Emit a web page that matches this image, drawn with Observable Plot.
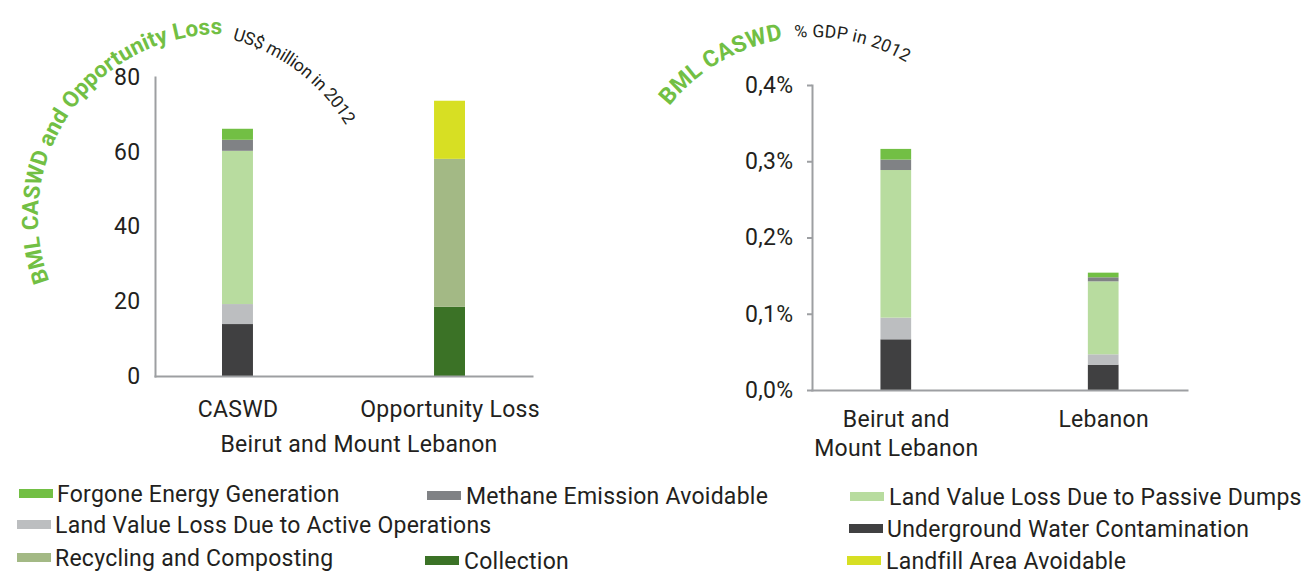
<!DOCTYPE html>
<html><head><meta charset="utf-8">
<script src="https://cdn.jsdelivr.net/npm/d3@7"></script>
<script src="https://cdn.jsdelivr.net/npm/@observablehq/plot@0.6"></script>
<style>
html,body{margin:0;padding:0;background:#fff;}
#root{position:relative;width:1307px;height:574px;font-family:Roboto,sans-serif;color:#231f20;overflow:hidden;}
#root > svg{position:absolute;top:0;}
.lg-sw{position:absolute;height:9px;width:34px;}
.lg-tx{position:absolute;font-size:23px;line-height:20px;white-space:nowrap;letter-spacing:0.25px;}
</style></head><body><div id="root"></div>
<script>
// ---- data ----
const seriesNames = [
  "Underground Water Contamination",
  "Land Value Loss Due to Active Operations",
  "Land Value Loss Due to Passive Dumps",
  "Methane Emission Avoidable",
  "Forgone Energy Generation",
  "Collection",
  "Recycling and Composting",
  "Landfill Area Avoidable"
];
const seriesColors = ["#404041","#bcbec0","#b8dc9f","#808285","#72bf44","#3b7226","#a3b985","#d7df23"];
const costCategories = ["CASWD", "Opportunity Loss"];
const caswdSeries = [0, 1, 2, 3, 4];
const caswdMillion = [13.9, 5.35, 41.0, 2.95, 2.95];
const opportunitySeries = [5, 6, 7];
const opportunityMillion = [18.5, 39.6, 15.55];
const costTicks = [0, 20, 40, 60, 80];
const gdpCategories = ["Beirut and Mount Lebanon", "Lebanon"];
const bmlGdpShare = [0.0665, 0.0284, 0.1936, 0.0137, 0.0140];
const lebanonGdpShare = [0.0332, 0.0136, 0.0957, 0.0053, 0.0061];
const gdpTicks = [0, 0.1, 0.2, 0.3, 0.4];
const leftTitle = ["BML CASWD and Opportunity Loss", "US$ million in 2012"];
const rightTitle = ["BML CASWD", "% GDP in 2012"];
const leftAxisLabel = "Beirut and Mount Lebanon";

// ---- tables ----
const costRows = [
  ...caswdSeries.map((s, i) => ({category: costCategories[0], series: seriesNames[s], value: caswdMillion[i]})),
  ...opportunitySeries.map((s, i) => ({category: costCategories[1], series: seriesNames[s], value: opportunityMillion[i]}))
];
const gdpRows = [
  ...caswdSeries.map((s, i) => ({category: gdpCategories[0], series: seriesNames[s], value: bmlGdpShare[i]})),
  ...caswdSeries.map((s, i) => ({category: gdpCategories[1], series: seriesNames[s], value: lebanonGdpShare[i]}))
];

const AXIS = "#9d9fa2", INK = "#231f20", GREEN = "#72bf44";
const style = {fontFamily: "Roboto, sans-serif", fontSize: "22px", color: INK, background: "transparent", overflow: "visible", letterSpacing: "0.3px"};
const color = {domain: seriesNames, range: seriesColors};
const root = document.getElementById("root");

const left = Plot.plot({
  width: 640, height: 465,
  marginLeft: 155, marginRight: 108, marginTop: 77, marginBottom: 89,
  style,
  x: {domain: costCategories, paddingInner: 0.854, paddingOuter: 0.316, round: false, label: null},
  y: {domain: [0, 80], label: null},
  color,
  marks: [
    Plot.barY(costRows, {x: "category", y: "value", fill: "series", z: "series", order: null}),
    Plot.frame({anchor: "left", stroke: AXIS, strokeWidth: 2}),
    Plot.frame({anchor: "bottom", stroke: AXIS, strokeWidth: 2}),
    Plot.axisY({ticks: costTicks, tickSize: 0, tickPadding: 15, fontSize: 23, fill: INK, label: null}),
    Plot.axisX({tickSize: 0, tickPadding: 24, fontSize: 23, fill: INK, label: null}),
    Plot.text([leftAxisLabel], {text: d => d, frameAnchor: "bottom", lineAnchor: "top", dy: 59, dx: 15, fontSize: 23, fill: INK})
  ]
});
left.style.left = "0px";
root.appendChild(left);

const right = Plot.plot({
  width: 657, height: 465,
  marginLeft: 162, marginRight: 120, marginTop: 85, marginBottom: 75,
  style,
  x: {domain: gdpCategories, paddingInner: 0.852, paddingOuter: 0.33, round: false, label: null},
  y: {domain: [0, 0.4], label: null},
  color,
  marks: [
    Plot.barY(gdpRows, {x: "category", y: "value", fill: "series", z: "series", order: null}),
    Plot.frame({anchor: "left", stroke: AXIS, strokeWidth: 2}),
    Plot.frame({anchor: "bottom", stroke: AXIS, strokeWidth: 2}),
    Plot.axisY({ticks: gdpTicks, tickSize: 5, tickPadding: 14, fontSize: 23, stroke: AXIS, strokeWidth: 2, fill: INK, label: null,
      tickFormat: d => d.toFixed(1).replace(".", ",") + "%"}),
    Plot.axisX({tickSize: 0, tickPadding: 16, fontSize: 23, fill: INK, label: null, lineHeight: 1.26,
      tickFormat: d => d.replace("and ", "and\n")})
  ]
});
right.style.left = "650px";
root.appendChild(right);

// ---- legend (HTML) ----
const legendSlots = [ // [swatchX, textX, baseline] for each series, same order as seriesNames
  [849, 887, 538], [17, 55, 534], [850, 889, 506], [427, 466, 505],
  [19, 57, 503], [425, 464, 570], [17, 55, 567], [847, 886, 570]
];
seriesNames.forEach((name, i) => {
  const [sx, tx, base] = legendSlots[i];
  const sw = document.createElement("div");
  sw.className = "lg-sw";
  sw.style.left = sx + "px"; sw.style.top = (base - 14) + "px"; sw.style.background = seriesColors[i];
  root.appendChild(sw);
  const t = document.createElement("div");
  t.className = "lg-tx";
  t.style.left = tx + "px"; t.style.top = (base - 17.85) + "px";
  t.textContent = name;
  root.appendChild(t);
});

// ---- curved titles ----
const svg = d3.select(root).append("svg").attr("width", 1307).attr("height", 574)
  .style("left", "0px").style("pointer-events", "none");
function arc(cx, cy, r, a0, a1) {
  const p = a => [cx + r * Math.cos(a * Math.PI / 180), cy + r * Math.sin(a * Math.PI / 180)];
  const [x0, y0] = p(a0), [x1, y1] = p(a1);
  return `M${x0},${y0}A${r},${r} 0 ${a1 - a0 > 180 ? 1 : 0} 1 ${x1},${y1}`;
}
const arcs = [
  {id: "t1", text: leftTitle[0], c: [221, 217], r: 183, a0: 159.6, a1: 270.3, size: 22.5, weight: 700, fill: GREEN},
  {id: "t2", text: leftTitle[1], c: [183, 223], r: 190, a0: 285, a1: 329, size: 17.5, weight: 400, fill: INK},
  {id: "t3", text: rightTitle[0], c: [813, 221], r: 184, a0: 218.7, a1: 260.6, size: 23, weight: 700, fill: GREEN},
  {id: "t4", text: rightTitle[1], c: [813, 221], r: 184, a0: 264.3, a1: 300.5, size: 17.5, weight: 400, fill: INK}
];
const texts = [];
arcs.forEach(a => {
  svg.append("path").attr("id", a.id).attr("fill", "none").attr("d", arc(a.c[0], a.c[1], a.r, a.a0, a.a1 + 25));
  const t = svg.append("text").attr("font-family", "Roboto, sans-serif").attr("font-size", a.size)
    .attr("font-weight", a.weight).attr("fill", a.fill);
  t.append("textPath").attr("href", "#" + a.id).text(a.text);
  texts.push([t, a.r * (a.a1 - a.a0) * Math.PI / 180]);
});
function fit() {
  texts.forEach(([t, target]) => {
    t.attr("letter-spacing", 0);
    const len = t.node().getComputedTextLength();
    t.attr("letter-spacing", (target - len) / t.text().length);
  });
}
fit();
if (document.fonts) document.fonts.ready.then(fit);
</script></body></html>
